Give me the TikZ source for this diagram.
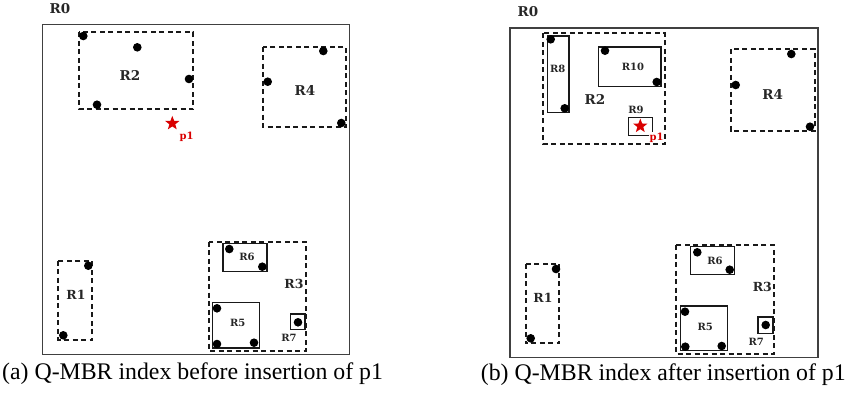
\documentclass[tikz,border=0pt]{standalone}
\usepackage{fontspec}
\setmainfont{Liberation Serif}
\newfontfamily\lblfont{DejaVu Serif}
\usetikzlibrary{shapes.geometric}
\tikzset{
  outer/.style={line width=1.5pt, draw=black!75},
  mbr/.style={line width=1.7pt, dash pattern=on 5pt off 3.5pt, draw=black!90},
  sub/.style={line width=1.5pt, draw=black!90},
  pt/.style={fill=black},
  lbl/.style={font=\lblfont\bfseries\fontsize{13.5}{13.5}\selectfont, inner sep=0pt, text=black!85},
  mlbl/.style={font=\lblfont\bfseries\fontsize{12.5}{12.5}\selectfont, inner sep=0pt, text=black!85},
  slbl/.style={font=\lblfont\bfseries\fontsize{10}{10}\selectfont, inner sep=0pt, text=black!85},
  plbl/.style={font=\lblfont\bfseries\fontsize{10}{10}\selectfont, inner sep=0.5pt, text=red!85!black},
  pstar/.style={star, star points=5, star point ratio=2.4, fill=red!85!black, inner sep=0pt, minimum size=15pt},
  captext/.style={font=\fontsize{23.8}{23.8}\selectfont, inner sep=0pt, anchor=west}
}
\begin{document}
\begin{tikzpicture}[x=1pt,y=-1pt]
\useasboundingbox (0,0) rectangle (848,392);
% ---------- panel (a) ----------
\draw[outer] (42.3,24.3) rectangle (349.7,354.3);
\node[lbl] (a0) at (60,9) {R0};
% R2
\draw[mbr] (79,32.3) rectangle (193.3,109.3);
\node[lbl] (a2) at (130,75.3) {R2};
\foreach \p in {(83.3,36),(137.3,47.3),(189,79),(97,104.7)} \fill[pt] \p circle (4.3);
% p1
\node[pstar] (astar) at (172.3,123.3) {};
\node[plbl] (ap1) at (186.7,136.7) {p1};
% R4
\draw[mbr] (263.3,46.7) rectangle (346,127.3);
\node[lbl] (a4) at (305,90.3) {R4};
\foreach \p in {(323.3,51),(267.7,81.7),(341.3,123)} \fill[pt] \p circle (4.3);
% R1
\draw[mbr] (58.3,260.7) rectangle (92,340);
\node[mlbl] (a1) at (76,295.3) {R1};
\foreach \p in {(88.3,265.7),(63.3,335.3)} \fill[pt] \p circle (4.3);
% R3
\draw[mbr] (208.7,241.7) rectangle (306,350.7);
\node[mlbl] (a3) at (294,284.3) {R3};
% R6
\draw[sub] (223,243.3) rectangle (267,271.3);
\node[slbl] (a6) at (247,256.7) {R6};
\foreach \p in {(229.3,249),(262.3,266.7)} \fill[pt] \p circle (4.3);
% R5
\draw[sub] (212.7,302.7) rectangle (259.3,348);
\node[slbl] (a5) at (237.7,323.3) {R5};
\foreach \p in {(217,308.3),(217,344),(254,342.7)} \fill[pt] \p circle (4.3);
% R7
\draw[sub] (290.3,314) rectangle (305,329.7);
\fill[pt] (298,322.3) circle (4.3);
\node[slbl] (a7) at (289,338.3) {R7};
\node[captext] (capa) at (2,373.5) {(a) Q-MBR index before insertion of p1};
% ---------- panel (b) ----------
\draw[outer] (510,28) rectangle (818,357.7);
\node[lbl] (b0) at (528,11.7) {R0};
% R2
\draw[mbr] (543.3,33.3) rectangle (664.7,144.3);
\node[lbl] (b2) at (595,99) {R2};
% R8
\draw[sub] (547.3,36) rectangle (569,112.7);
\node[slbl] (b8) at (557.7,69.3) {R8};
\foreach \p in {(550.7,39.3),(564.7,108.3)} \fill[pt] \p circle (4.3);
% R10
\draw[sub] (598.7,47) rectangle (661,86.7);
\node[slbl] (b10) at (633,67.3) {R10};
\foreach \p in {(605,50.7),(656.7,82)} \fill[pt] \p circle (4.3);
% R9
\draw[sub] (628.7,117.7) rectangle (652.7,135.3);
\node[slbl] (b9) at (636,110) {R9};
\node[pstar] (bstar) at (640.3,126) {};
\node[plbl, fill=white] (bp1) at (656.5,137.5) {p1};
% R4
\draw[mbr] (730.7,49.3) rectangle (814.7,130.7);
\node[lbl] (b4) at (772.7,94) {R4};
\foreach \p in {(791.3,54),(735.7,85),(810,126.7)} \fill[pt] \p circle (4.3);
% R1
\draw[mbr] (525.7,264) rectangle (559.3,343.3);
\node[mlbl] (b1) at (543,298) {R1};
\foreach \p in {(556,269),(530.7,338.3)} \fill[pt] \p circle (4.3);
% R3
\draw[mbr] (676,245) rectangle (773.7,354);
\node[mlbl] (b3) at (762.3,287.3) {R3};
% R6
\draw[sub] (690.7,246.7) rectangle (734.7,274.7);
\node[slbl] (b6) at (715,260.7) {R6};
\foreach \p in {(697.3,252.3),(729.7,269.7)} \fill[pt] \p circle (4.3);
% R5
\draw[sub] (680.7,306) rectangle (727.3,350.7);
\node[slbl] (b5) at (705.3,327) {R5};
\foreach \p in {(685,311.7),(685.3,346.7),(721.7,346)} \fill[pt] \p circle (4.3);
% R7
\draw[sub] (758,317) rectangle (773,333.3);
\fill[pt] (765.7,325) circle (4.3);
\node[slbl] (b7) at (756.3,341.7) {R7};
\node[captext] (capb) at (480.7,374.3) {(b) Q-MBR index after insertion of p1};
\end{tikzpicture}
\end{document}
